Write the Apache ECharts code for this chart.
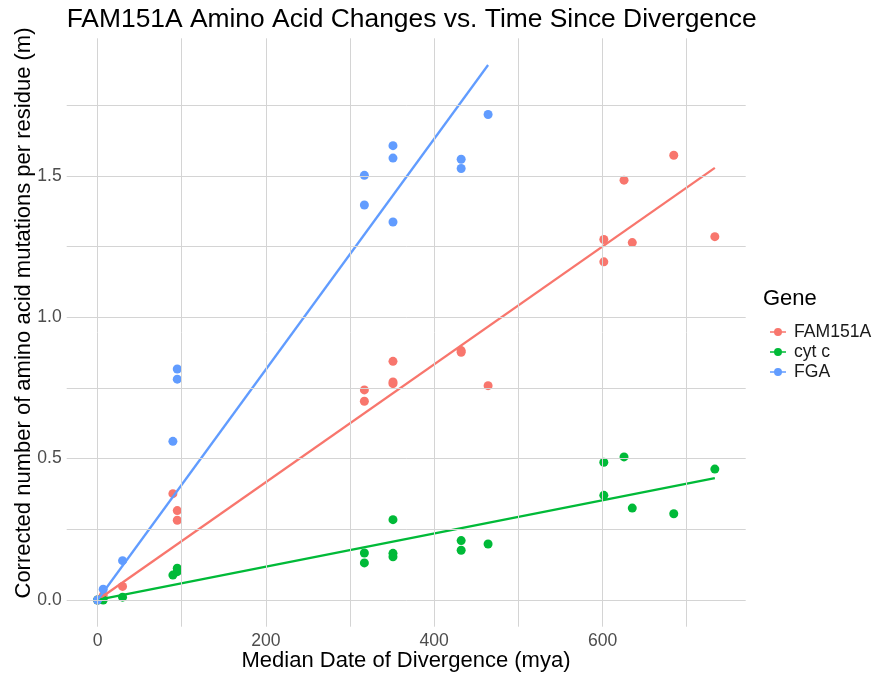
<!DOCTYPE html>
<html>
<head>
<meta charset="utf-8">
<script src="https://cdn.jsdelivr.net/npm/echarts@6/dist/echarts.min.js"></script>
<style>html,body{margin:0;padding:0;background:#fff}#c{width:873px;height:674px}</style>
</head>
<body>
<div id="c"></div>
<script>
// ---- data ----
const genes = ['FAM151A', 'cyt c', 'FGA'];
const famX = [0, 6.7, 29.7, 89.5, 94.7, 94.7, 317, 317, 351, 351, 351, 432, 432, 464, 601.5, 601.5, 625.5, 635.3, 684.6, 733.4];
const famY = [0, 0.015, 0.048, 0.376, 0.316, 0.282, 0.743, 0.703, 0.844, 0.771, 0.765, 0.882, 0.876, 0.758, 1.275, 1.196, 1.485, 1.264, 1.573, 1.285];
const cytX = [0, 6.7, 29.7, 89.5, 94.7, 94.7, 317, 317, 351, 351, 351, 432, 432, 464, 601.5, 601.5, 625.5, 635.3, 684.6, 733.4];
const cytY = [0, 0, 0.010, 0.088, 0.100, 0.112, 0.166, 0.131, 0.284, 0.165, 0.153, 0.210, 0.176, 0.198, 0.487, 0.370, 0.506, 0.325, 0.305, 0.463];
const fgaX = [0, 6.7, 29.7, 89.5, 94.7, 94.7, 317, 317, 351, 351, 351, 432, 432, 464];
const fgaY = [0, 0.038, 0.139, 0.561, 0.817, 0.781, 1.502, 1.397, 1.607, 1.563, 1.337, 1.559, 1.526, 1.717];
const xTicks = [0, 200, 400, 600];
const yTicks = [0, 0.5, 1.0, 1.5];
const xGrid = [0, 100, 200, 300, 400, 500, 600, 700];
const yGrid = [0, 0.25, 0.5, 0.75, 1.0, 1.25, 1.5, 1.75];
const titleText = 'FAM151A Amino Acid Changes vs. Time Since Divergence';
const xTitle = 'Median Date of Divergence (mya)';
const yTitle = 'Corrected number of amino acid mutations per residue (m)';
const legendTitle = 'Gene';

const colors = ['#F8766D', '#00BA38', '#619CFF'];
const groups = [[famX, famY], [cytX, cytY], [fgaX, fgaY]];

// linear fit through the origin (y ~ 0 + x)
function fit(xs, ys) {
  let sxy = 0, sxx = 0;
  xs.forEach((x, i) => { sxy += x * ys[i]; sxx += x * x; });
  const k = sxy / sxx;
  const xmax = Math.max(...xs);
  return [[0, 0], [xmax, k * xmax]];
}
const fits = groups.map(g => fit(g[0], g[1]));

// ggplot-like 5% expansion
let allX = [], allY = [];
groups.forEach(g => { allX = allX.concat(g[0]); allY = allY.concat(g[1]); });
fits.forEach(f => f.forEach(p => { allX.push(p[0]); allY.push(p[1]); }));
const x0 = Math.min(...allX), x1 = Math.max(...allX);
const y0 = Math.min(...allY), y1 = Math.max(...allY);
const xmin = x0 - 0.05 * (x1 - x0), xmax = x1 + 0.05 * (x1 - x0);
const ymin = y0 - 0.05 * (y1 - y0), ymax = y1 + 0.05 * (y1 - y0);

const FONT = '"Liberation Sans", Arial, sans-serif';
const chart = echarts.init(document.getElementById('c'), null, {renderer: 'canvas'});

const series = [];
series.push({
  type: 'line', data: [], silent: true, z: 0,
  markLine: {
    silent: true, symbol: ['none', 'none'], animation: false,
    label: {show: false},
    lineStyle: {color: '#d4d4d4', width: 1, type: 'solid'},
    emphasis: {disabled: true},
    data: xGrid.map(v => ({xAxis: v})).concat(yGrid.map(v => ({yAxis: v})))
  }
});
genes.forEach((g, i) => {
  series.push({
    name: g, type: 'scatter', z: 2,
    data: groups[i][0].map((x, j) => [x, groups[i][1][j]]),
    symbolSize: 9, itemStyle: {color: colors[i], opacity: 1},
    emphasis: {disabled: true}
  });
});
genes.forEach((g, i) => {
  series.push({
    name: g + ' fit', type: 'line', z: 3, data: fits[i],
    showSymbol: false, symbol: 'none',
    lineStyle: {color: colors[i], width: 2.3}, silent: true
  });
});

const legendIcon = 'path://M0,3.3 L16,3.3 L16,4.7 L0,4.7 Z M12,4 A4,4 0 1 1 4,4 A4,4 0 1 1 12,4 Z';

chart.setOption({
  animation: false,
  backgroundColor: '#ffffff',
  textStyle: {fontFamily: FONT},
  title: [
    {text: titleText, left: 66.7, top: 7, padding: 0,
     textStyle: {fontFamily: FONT, fontSize: 26.4, fontWeight: 'normal', color: '#000'}},
    {text: legendTitle, left: 763, top: 288, padding: 0,
     textStyle: {fontFamily: FONT, fontSize: 22, fontWeight: 'normal', color: '#000'}}
  ],
  graphic: [{
    type: 'text', x: 24, y: 313, rotation: Math.PI / 2, silent: true,
    style: {text: yTitle, font: '22px ' + FONT, fill: '#000', align: 'center', verticalAlign: 'middle'}
  }, {
    type: 'text', x: 406, y: 661, silent: true,
    style: {text: xTitle, font: '22px ' + FONT, fill: '#000', align: 'center', verticalAlign: 'middle'}
  }],
  legend: {
    data: genes, orient: 'vertical', left: 765, top: 318,
    icon: legendIcon, itemWidth: 16, itemHeight: 8, itemGap: 2,
    selectedMode: false,
    textStyle: {fontFamily: FONT, fontSize: 17.6, color: '#1a1a1a', lineHeight: 14, padding: [0, 0, 0, 3]}
  },
  grid: {left: 66.7, right: 127.3, top: 38.3, bottom: 47.3, containLabel: false, outerBoundsMode: 'none'},
  xAxis: {
    type: 'value', min: xmin, max: xmax,
    axisLine: {show: false}, axisTick: {show: false}, splitLine: {show: false},
    axisLabel: {customValues: xTicks, color: '#4d4d4d', fontSize: 17.6, fontFamily: FONT, margin: 5,
                formatter: v => String(v)}
  },
  yAxis: {
    type: 'value', min: ymin, max: ymax,
    axisLine: {show: false}, axisTick: {show: false}, splitLine: {show: false},
    axisLabel: {customValues: yTicks, color: '#4d4d4d', fontSize: 17.6, fontFamily: FONT, margin: 5,
                formatter: v => v.toFixed(1)}
  },
  series: series
});
</script>
</body>
</html>
